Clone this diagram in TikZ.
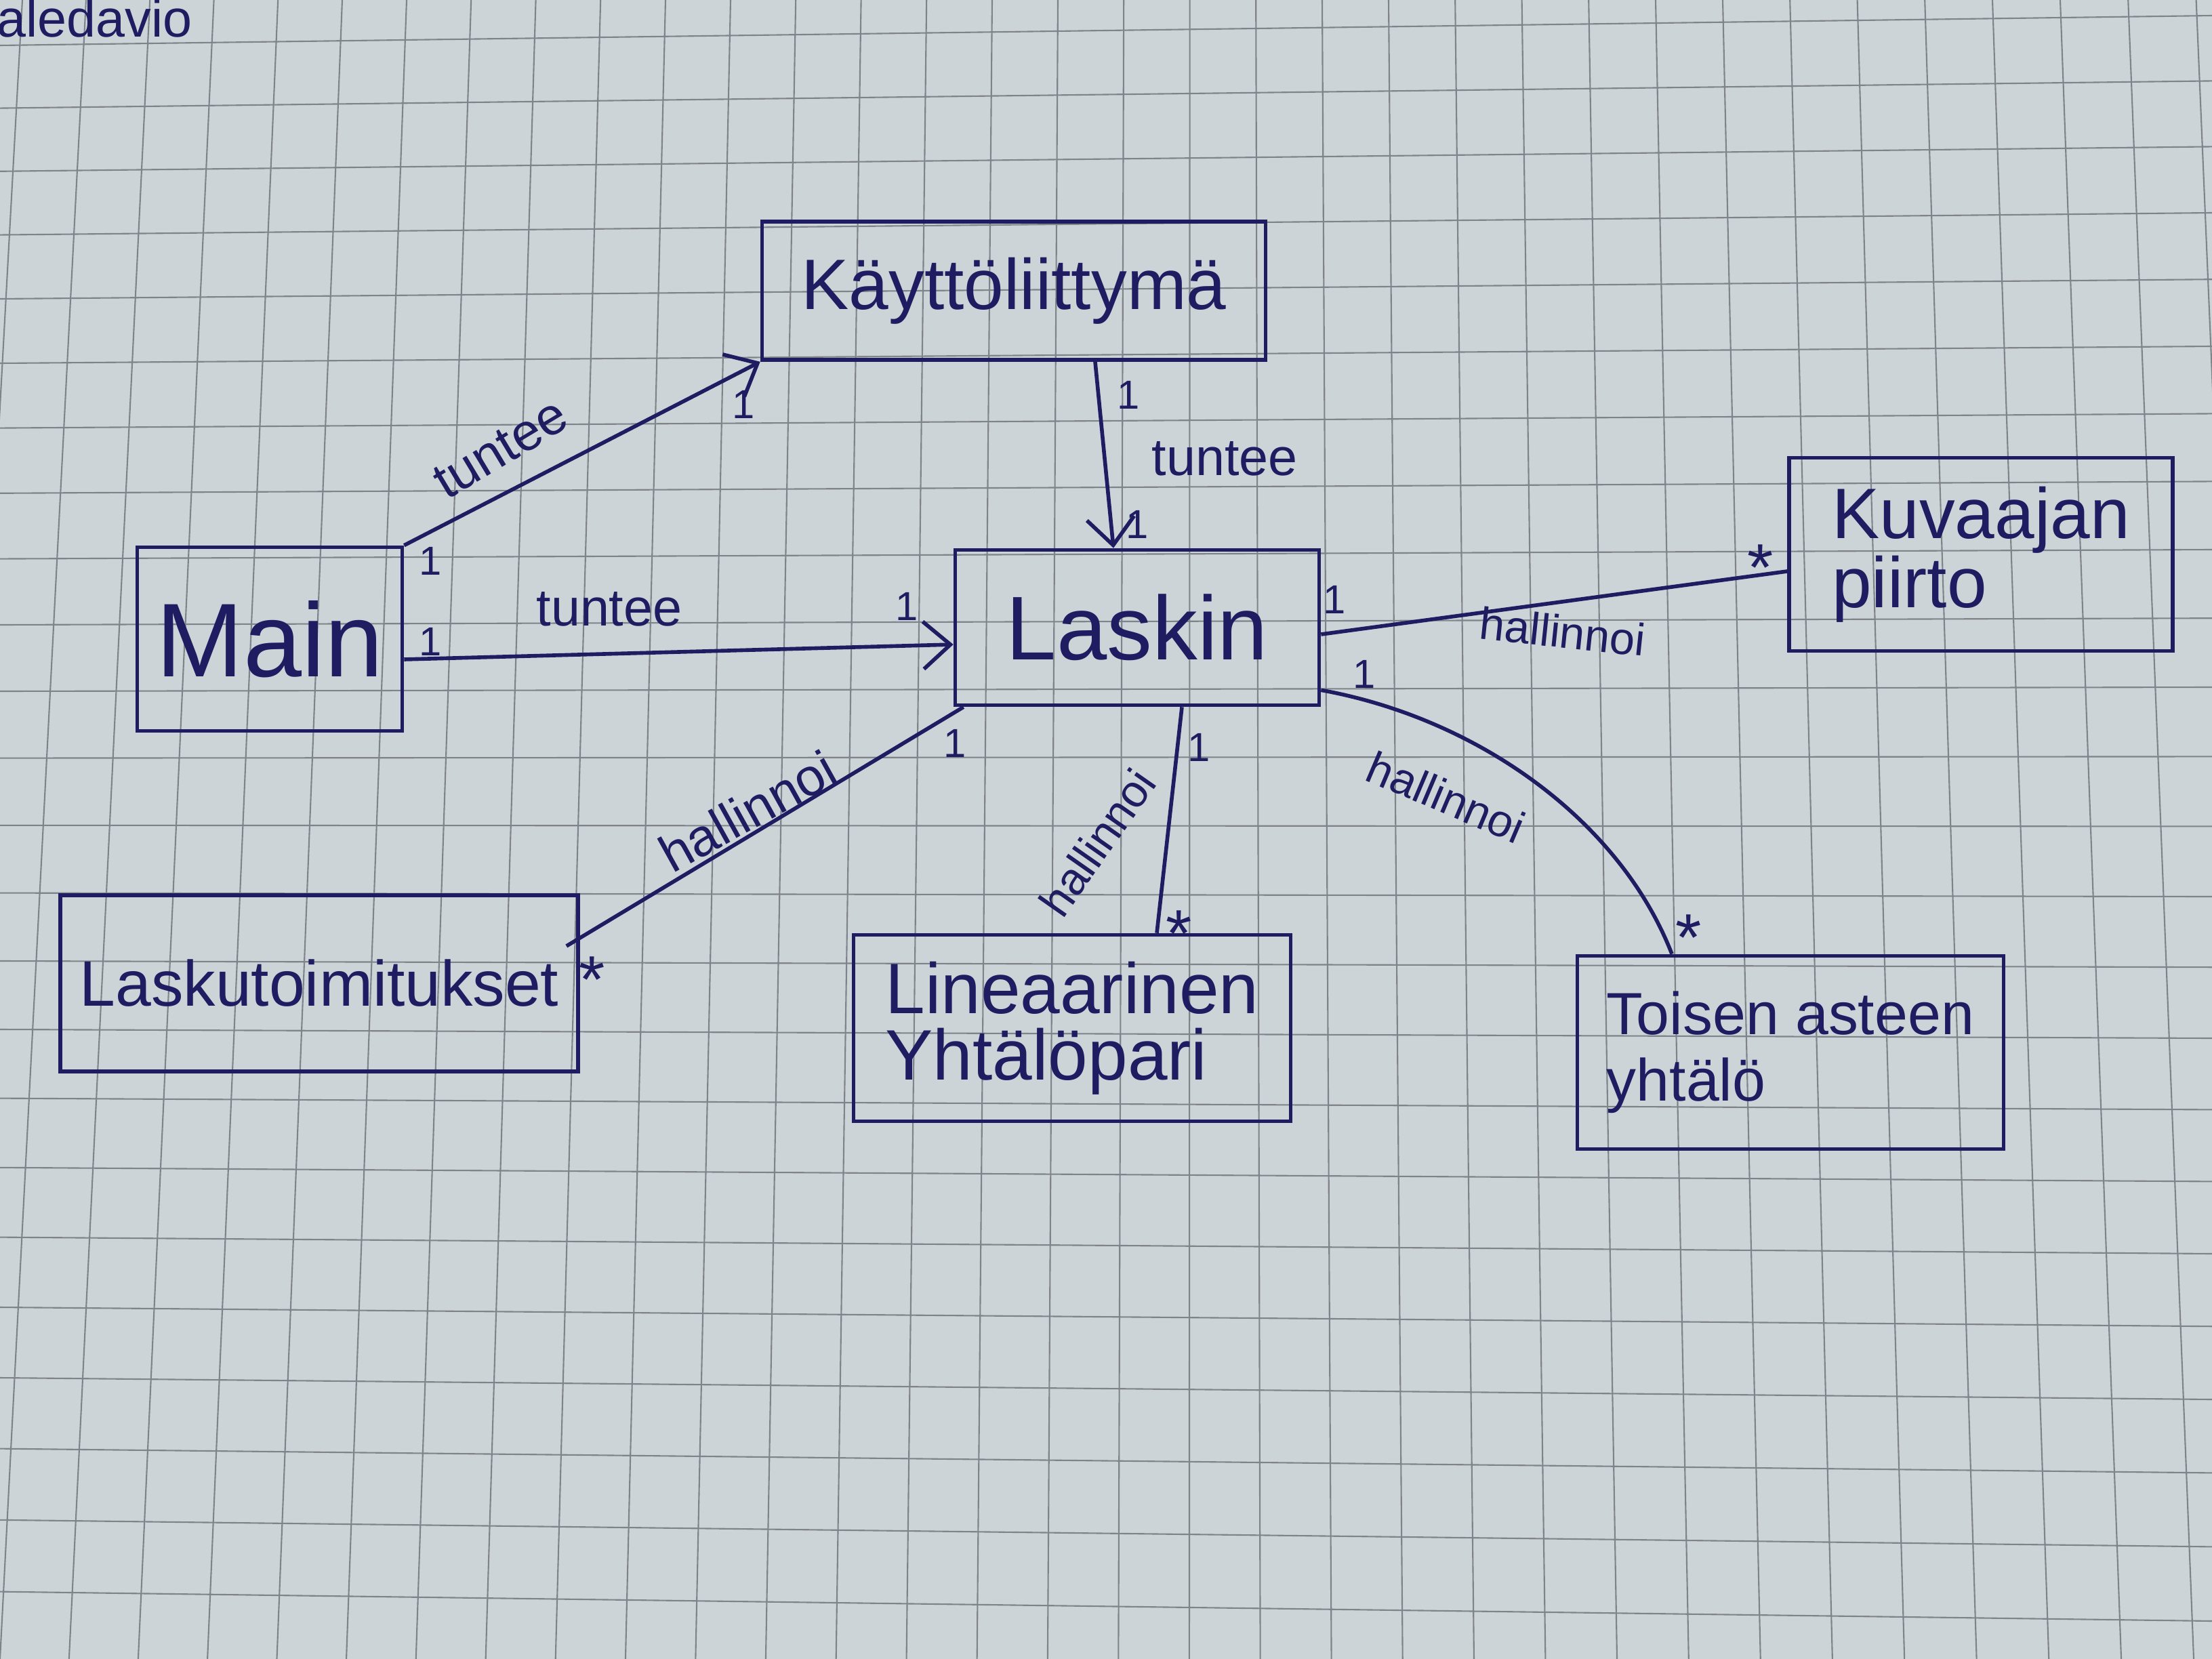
\documentclass[tikz,border=0pt]{standalone}
\usepackage{fontspec}
\setmainfont{Liberation Sans}
\usetikzlibrary{arrows.meta,calc}
\definecolor{ink}{RGB}{32,28,98}
\definecolor{paper}{RGB}{204,212,216}
\definecolor{gridgray}{RGB}{128,132,138}

\tikzset{
  classbox/.style={draw=ink, line width=1.6pt, inner sep=0pt, text=ink},
  assoc/.style={draw=ink, line width=1.6pt},
  mult/.style={text=ink, font=\fontsize{17}{17}\selectfont, inner sep=1pt},
  starlbl/.style={text=ink, font=\fontsize{28}{28}\selectfont, inner sep=0pt},
  rolelbl/.style={text=ink, font=\fontsize{19}{19}\selectfont, inner sep=0pt},
}

\begin{document}
\begin{tikzpicture}[x=1cm, y=-1cm, >={Straight Barb[length=4mm,width=7mm]}]
    \useasboundingbox (0,0) rectangle (32.64,24.48);
    \fill[paper] (0,0) rectangle (32.64,24.48);

    % -- squared paper, a bit in perspective --
    \begin{scope}
        \clip (0,0) rectangle (32.64,24.48);
        \foreach \u in {0,...,33}{
            \pgfmathsetmacro{\xt}{(127+94*(\u-1)+0.1*(\u-1)*\u)/100}
            \pgfmathsetmacro{\xb}{(101.7*(\u-1)+0.085*(\u-1)*\u)/100}
            \draw[gridgray, line width=0.6pt] (\xt,0) -- (\xb,24.48);
        }
        \foreach \v in {0,...,23}{
            \pgfmathsetmacro{\yl}{(67+92.6*\v+0.3*\v*(\v-1))/100}
            \pgfmathsetmacro{\yr}{(23+96.4*\v+0.3*\v*(\v-1))/100}
            \draw[gridgray, line width=0.6pt] (0,\yl) -- (32.64,\yr);
        }
    \end{scope}

    \node[text=ink, font=\fontsize{22}{22}\selectfont, anchor=base west, inner sep=0pt]
        (sig) at (-0.05,0.55) {aledavio};

    % -- classes --
    \node[classbox, minimum width=7.43cm, minimum height=2.04cm,
          font=\fontsize{30}{30}\selectfont] (kaytto) at (14.96,4.29) {Käyttöliittymä};
    \node[classbox, minimum width=3.91cm, minimum height=2.71cm,
          font=\fontsize{44}{44}\selectfont] (main) at (3.98,9.43) {Main};
    \node[classbox, minimum width=5.37cm, minimum height=2.29cm,
          font=\fontsize{38}{38}\selectfont] (laskin) at (16.78,9.26) {Laskin};
    \node[classbox, minimum width=5.66cm, minimum height=2.85cm, align=left,
          font=\fontsize{30}{27}\selectfont] (kuvaaja) at (29.23,8.18) {Kuvaajan\\piirto};
    \node[classbox, minimum width=7.64cm, minimum height=2.60cm,
          font=\fontsize{27}{27}\selectfont] (laskut) at (4.71,14.51) {Laskutoimitukset};
    \node[classbox, minimum width=6.45cm, minimum height=2.75cm, align=left,
          font=\fontsize{30}{28}\selectfont] (lineaar) at (15.82,15.17) {Lineaarinen\\Yhtälöpari};
    \node[classbox, minimum width=6.29cm, minimum height=2.85cm, align=left,
          font=\fontsize{25}{28}\selectfont] (toisen) at (26.42,15.53) {Toisen asteen\\yhtälö};

    % -- Main knows the UI and the calculator --
    \draw[assoc,->] (main.north east) -- (kaytto.south west);
    \node[rolelbl, rotate=31, font=\fontsize{22}{22}\selectfont] (tMK) at (7.39,6.62) {tuntee};
    \node[mult] (mMK1) at (6.35,8.28) {1};
    \node[mult] (mMK2) at (10.97,5.97) {1};

    \draw[assoc,->] ($(main.east)+(0,0.3)$) -- ($(laskin.west)+(0,0.25)$);
    \node[rolelbl, font=\fontsize{22}{22}\selectfont] (tML) at (8.99,8.99) {tuntee};
    \node[mult] (mML1) at (6.35,9.47) {1};
    \node[mult] (mML2) at (13.38,8.95) {1};

    \draw[assoc,->] ($(kaytto.south)+(1.2,0)$) -- ($(laskin.north)+(-0.35,0)$);
    \node[mult] (mKL1) at (16.65,5.83) {1};
    \node[rolelbl, font=\fontsize{22}{22}\selectfont] (tKL) at (18.07,6.77) {tuntee};
    \node[mult] (mKL2) at (16.78,7.74) {1};

    % -- Laskin manages the rest --
    \draw[assoc] ($(laskin.east)+(0,0.1)$) -- ($(kuvaaja.west)+(0,0.25)$);
    \node[mult] (mLK1) at (19.69,8.85) {1};
    \node[rolelbl, rotate=-6] (hLK) at (23.06,9.32) {hallinnoi};
    \node[starlbl] (sLK) at (25.98,8.38) {*};

    \draw[assoc] ($(laskin.south east)+(0,-0.25)$)
        .. controls (21.8,10.6) and (23.9,12.1) .. ($(toisen.north)+(-1.75,0)$);
    \node[mult] (mLT1) at (20.13,9.95) {1};
    \node[rolelbl, rotate=-23] (hLT) at (21.34,11.76) {hallinnoi};
    \node[starlbl] (sLT) at (24.92,13.84) {*};

    \draw[assoc] ($(laskin.south)+(0.66,0)$) -- ($(lineaar.north)+(1.25,0)$);
    \node[mult] (mLL1) at (17.69,11.03) {1};
    \node[rolelbl, rotate=55] (hLL) at (16.19,12.43) {hallinnoi};
    \node[starlbl] (sLL) at (17.40,13.78) {*};

    \draw[assoc] ($(laskin.south west)+(0.15,0)$) -- ($(laskut.east)+(-0.2,-0.55)$);
    \node[mult] (mLS1) at (14.09,10.97) {1};
    \node[rolelbl, rotate=29, font=\fontsize{22}{22}\selectfont] (hLS) at (11.03,11.97) {hallinnoi};
    \node[starlbl] (sLS) at (8.74,14.46) {*};
\end{tikzpicture}
\end{document}
